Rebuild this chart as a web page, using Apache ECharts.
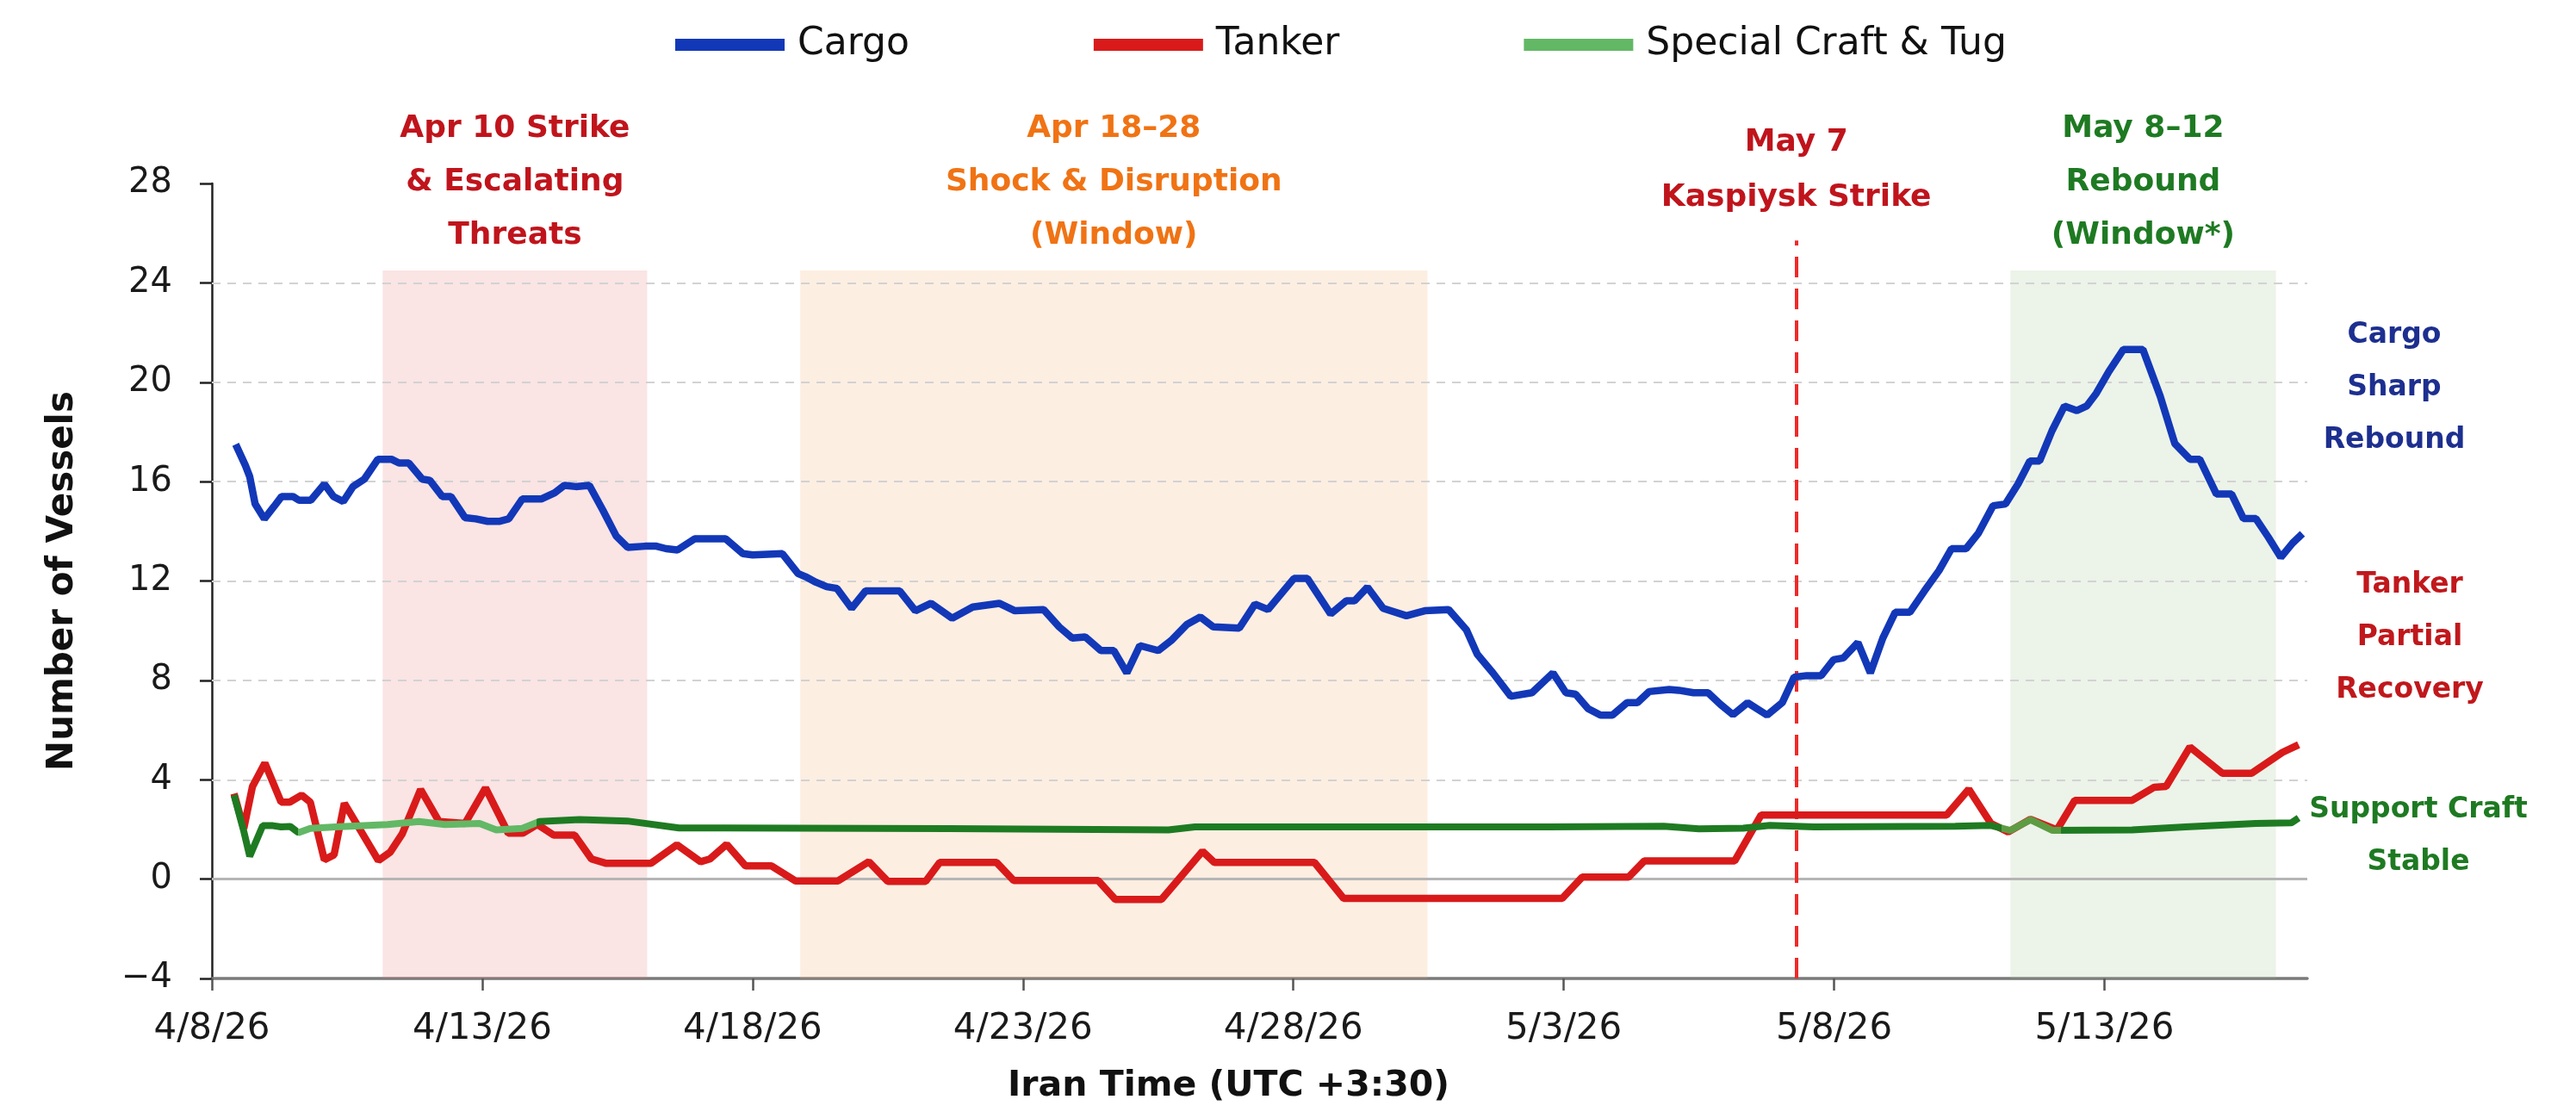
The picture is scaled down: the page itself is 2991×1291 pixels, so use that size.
<!DOCTYPE html>
<html>
<head>
<meta charset="utf-8">
<title>Vessels by type</title>
<script src="https://cdn.jsdelivr.net/npm/echarts@6/dist/echarts.min.js"></script>
<style>
html, body { margin: 0; padding: 0; background: #fff; }
#chart { width: 2991px; height: 1291px; }
</style>
</head>
<body>
<div id="chart"></div>
<script>
// x values are days since 4/8/26 00:00 (Iran time)
var dateTicks = [0, 5, 10, 15, 20, 25, 30, 35]
var gridValues = [4, 8, 12, 16, 20, 24]

var cargo = [
  [0.44, 17.5], [0.62, 16.65], [0.70, 16.2], [0.80, 15.1], [0.97, 14.5], [1.15, 15.0], [1.29, 15.4], [1.5, 15.4],
  [1.61, 15.25], [1.83, 15.25], [2.08, 15.9], [2.25, 15.4], [2.43, 15.2], [2.61, 15.8], [2.82, 16.1], [3.07, 16.9],
  [3.32, 16.9], [3.46, 16.75], [3.64, 16.75], [3.89, 16.1], [4.03, 16.05], [4.26, 15.4], [4.42, 15.4], [4.68, 14.55],
  [4.88, 14.5], [5.10, 14.4], [5.31, 14.4], [5.49, 14.5], [5.74, 15.3], [6.09, 15.3], [6.34, 15.55], [6.52, 15.85],
  [6.73, 15.8], [6.98, 15.85], [7.23, 14.85], [7.48, 13.8], [7.69, 13.35], [8.01, 13.4], [8.22, 13.4], [8.40, 13.3],
  [8.61, 13.25], [8.93, 13.7], [9.50, 13.7], [9.82, 13.1], [10.0, 13.05], [10.55, 13.1], [10.84, 12.3], [10.98, 12.17],
  [11.17, 11.95], [11.37, 11.77], [11.56, 11.7], [11.83, 10.9], [12.09, 11.6], [12.72, 11.6], [13.01, 10.8], [13.3, 11.1],
  [13.69, 10.5], [14.07, 10.95], [14.56, 11.1], [14.85, 10.8], [15.38, 10.85], [15.67, 10.15], [15.91, 9.7], [16.15, 9.75],
  [16.44, 9.2], [16.68, 9.2], [16.92, 8.3], [17.16, 9.4], [17.50, 9.2], [17.74, 9.6], [18.03, 10.25], [18.28, 10.55],
  [18.52, 10.15], [19.0, 10.1], [19.29, 11.07], [19.53, 10.85], [20.01, 12.1], [20.26, 12.1], [20.69, 10.67], [20.98, 11.2],
  [21.13, 11.2], [21.37, 11.75], [21.66, 10.9], [22.09, 10.6], [22.43, 10.8], [22.87, 10.85], [23.2, 10.03], [23.4, 9.05],
  [23.69, 8.3], [24.02, 7.36], [24.41, 7.5], [24.8, 8.3], [25.04, 7.5], [25.22, 7.44], [25.45, 6.86], [25.68, 6.6],
  [25.9, 6.6], [26.17, 7.1], [26.36, 7.1], [26.58, 7.55], [26.95, 7.63], [27.13, 7.6], [27.4, 7.5], [27.67, 7.5],
  [27.9, 7.03], [28.13, 6.62], [28.4, 7.1], [28.76, 6.6], [29.04, 7.1], [29.26, 8.13], [29.49, 8.19], [29.76, 8.19],
  [29.99, 8.83], [30.17, 8.9], [30.44, 9.52], [30.67, 8.3], [30.9, 9.7], [31.13, 10.74], [31.40, 10.74], [31.67, 11.6],
  [31.94, 12.42], [32.17, 13.3], [32.44, 13.3], [32.67, 13.93], [32.94, 15.03], [33.17, 15.1], [33.4, 15.9], [33.62, 16.83],
  [33.8, 16.83], [34.03, 18.05], [34.26, 19.04], [34.49, 18.86], [34.67, 19.04], [34.85, 19.56], [35.08, 20.43], [35.35, 21.32],
  [35.71, 21.32], [36.03, 19.44], [36.3, 17.53], [36.58, 16.9], [36.76, 16.9], [37.07, 15.5], [37.35, 15.5], [37.57, 14.51],
  [37.8, 14.51], [38.03, 13.76], [38.26, 12.95], [38.48, 13.53], [38.66, 13.9]
]

var tanker = [
  [0.41, 3.44], [0.59, 2.04], [0.75, 3.72], [0.98, 4.67], [1.28, 3.1], [1.44, 3.1], [1.66, 3.38], [1.82, 3.1],
  [2.08, 0.78], [2.26, 0.98], [2.45, 3.05], [3.08, 0.75], [3.30, 1.09], [3.52, 1.82], [3.86, 3.61], [4.2, 2.32],
  [4.68, 2.24], [5.06, 3.67], [5.48, 1.85], [5.75, 1.85], [6.02, 2.2], [6.32, 1.77], [6.71, 1.77], [7.02, 0.81],
  [7.28, 0.64], [8.12, 0.64], [8.6, 1.38], [9.04, 0.7], [9.21, 0.81], [9.52, 1.4], [9.87, 0.53], [10.35, 0.53],
  [10.79, -0.07], [11.58, -0.07], [12.15, 0.7], [12.5, -0.09], [13.2, -0.09], [13.46, 0.67], [14.51, 0.67], [14.83, -0.06],
  [16.39, -0.06], [16.71, -0.82], [17.56, -0.82], [18.32, 1.12], [18.54, 0.67], [20.39, 0.67], [20.93, -0.78], [24.97, -0.78],
  [25.34, 0.08], [26.2, 0.08], [26.49, 0.73], [28.16, 0.73], [28.65, 2.58], [32.08, 2.58], [32.49, 3.62], [32.9, 2.24],
  [33.22, 1.9], [33.63, 2.41], [34.12, 1.98], [34.45, 3.17], [35.51, 3.17], [35.92, 3.7], [36.14, 3.73], [36.58, 5.32],
  [37.18, 4.26], [37.72, 4.26], [38.29, 5.1], [38.59, 5.41]
]

var specialCraft = [
  [0.41, 3.38], [0.59, 1.93], [0.70, 0.92], [0.94, 2.15], [1.13, 2.15], [1.28, 2.1], [1.45, 2.12], [1.60, 1.87],
  [1.82, 2.04], [2.29, 2.1], [3.25, 2.2], [3.83, 2.32], [4.31, 2.2], [4.95, 2.24], [5.26, 1.98], [5.74, 2.04],
  [6.06, 2.32], [6.8, 2.4], [7.68, 2.34], [8.64, 2.06], [9.52, 2.06], [13.62, 2.03], [17.69, 1.98], [18.18, 2.1],
  [24.72, 2.1], [26.85, 2.13], [27.5, 2.02], [28.32, 2.05], [28.81, 2.16], [29.63, 2.1], [32.24, 2.13], [32.9, 2.16],
  [33.26, 1.96], [33.63, 2.39], [34.04, 1.96], [35.51, 1.98], [36.5, 2.1], [37.8, 2.24], [38.46, 2.27], [38.59, 2.46]
]

// shaded windows [start day, end day] and the May 7 strike
var strikeWindow = [3.16, 8.05]
var shockWindow = [10.88, 22.48]
var reboundWindow = [33.26, 38.17]
var kaspiyskDay = 29.3

var FONT = '"DejaVu Sans", "Liberation Sans", sans-serif'

function dayLabel(v) {
  var d = new Date(Date.UTC(2026, 3, 8 + v))
  return (d.getUTCMonth() + 1) + '/' + d.getUTCDate() + '/26'
}

function areaLabel(text, color) {
  return {
    show: true,
    position: 'top',
    distance: 9,
    formatter: text,
    color: color,
    fontFamily: FONT,
    fontSize: 36,
    fontWeight: 'bold',
    lineHeight: 62,
    align: 'center'
  }
}

function sideNote(x, y, text, color) {
  return {
    type: 'text',
    x: x,
    y: y,
    silent: true,
    style: {
      text: text,
      fill: color,
      fontFamily: FONT,
      fontSize: 33,
      fontWeight: 'bold',
      lineHeight: 61,
      align: 'center',
      verticalAlign: 'middle',
      textAlign: 'center',
      textVerticalAlign: 'middle'
    }
  }
}

const chartDom = document.getElementById('chart')
const myChart = echarts.init(chartDom)
var option
option = {
  animation: false,
  backgroundColor: '#ffffff',
  textStyle: { fontFamily: FONT },
  grid: { left: 246, right: 312, top: 213, bottom: 155 },
  legend: {
    left: 779,
    top: 25,
    icon: 'rect',
    itemWidth: 127,
    itemHeight: 14,
    itemGap: 214,
    textStyle: { fontFamily: FONT, fontSize: 44, color: '#111', lineHeight: 44, padding: [0, 0, 0, 10] },
    data: [
      { name: 'Cargo' },
      { name: 'Tanker' },
      { name: 'Special Craft & Tug', itemStyle: { color: '#62b865' } }
    ]
  },
  xAxis: {
    type: 'value',
    min: 0,
    max: 38.75,
    name: 'Iran Time (UTC +3:30)',
    nameLocation: 'middle',
    nameGap: 105,
    nameTextStyle: { fontFamily: FONT, fontSize: 41, fontWeight: 'bold', color: '#111', padding: [0, 72, 0, 0] },
    axisLine: { show: true, onZero: false, lineStyle: { color: '#7a7a7a', width: 3.5 } },
    axisTick: { show: true, length: 14, customValues: dateTicks, lineStyle: { color: '#555', width: 2.5 } },
    axisLabel: {
      customValues: dateTicks,
      formatter: dayLabel,
      fontFamily: FONT,
      fontSize: 42,
      color: '#1a1a1a',
      margin: 38
    },
    splitLine: { show: false }
  },
  yAxis: {
    type: 'value',
    min: -4,
    max: 28,
    interval: 4,
    name: 'Number of Vessels',
    nameLocation: 'middle',
    nameGap: 152,
    nameTextStyle: { fontFamily: FONT, fontSize: 42, fontWeight: 'bold', color: '#111' },
    axisLine: { show: true, onZero: false, lineStyle: { color: '#222', width: 2.5 } },
    axisTick: { show: true, length: 14, lineStyle: { color: '#222', width: 2.5 } },
    axisLabel: {
      formatter: function(v) { return v < 0 ? '\u2212' + Math.abs(v) : String(v) },
      fontFamily: FONT,
      fontSize: 40,
      color: '#1a1a1a',
      margin: 46
    },
    splitLine: { show: false }
  },
  visualMap: {
    type: 'piecewise',
    show: false,
    seriesIndex: 3,
    dimension: 0,
    pieces: [
      { gte: 1.6, lt: 6.0, color: '#62b865' },
      { gte: 33.1, lt: 34.2, color: '#5d9c43' }
    ],
    outOfRange: { color: '#1e7b22' }
  },
  graphic: [
    sideNote(2780, 450, 'Cargo\nSharp\nRebound', '#1d2f8f'),
    sideNote(2798, 740, 'Tanker\nPartial\nRecovery', '#c0181c'),
    sideNote(2808, 971, 'Support Craft\nStable', '#1e7a22')
  ],
  series: [
    {
      // background: event windows, gridlines, zero line, strike marker
      name: 'background',
      type: 'line',
      data: [],
      z: 1,
      silent: true,
      markArea: {
        silent: true,
        data: [
          [
            { xAxis: strikeWindow[0], yAxis: -4, itemStyle: { color: 'rgba(230,120,120,0.2)' }, label: areaLabel('Apr 10 Strike\n& Escalating\nThreats', '#c0141c') },
            { xAxis: strikeWindow[1], yAxis: 24.5 }
          ],
          [
            { xAxis: shockWindow[0], yAxis: -4, itemStyle: { color: 'rgba(245,170,110,0.2)' }, label: areaLabel('Apr 18\u201328\nShock & Disruption\n(Window)', '#f07314') },
            { xAxis: shockWindow[1], yAxis: 24.5 }
          ],
          [
            { xAxis: reboundWindow[0], yAxis: -4, itemStyle: { color: 'rgba(160,195,145,0.2)' }, label: areaLabel('May 8\u201312\nRebound\n(Window*)', '#1e7a22') },
            { xAxis: reboundWindow[1], yAxis: 24.5 }
          ]
        ]
      },
      markLine: {
        silent: true,
        symbol: 'none',
        data: gridValues.map(function(v) {
          return {
            yAxis: v,
            label: { show: false },
            lineStyle: { color: '#d2d2d2', width: 2, type: [10, 8] }
          }
        }).concat([
          { yAxis: 0, label: { show: false }, lineStyle: { color: '#b5b5b5', width: 3, type: 'solid' } },
          [
            {
              coord: [kaspiyskDay, -4],
              lineStyle: { color: '#ee2a2a', width: 4, type: [24, 13] },
              label: {
                show: true,
                position: 'end',
                distance: 18,
                formatter: 'May 7\nKaspiysk Strike',
                color: '#c0141c',
                fontFamily: FONT,
                fontSize: 36,
                fontWeight: 'bold',
                lineHeight: 64,
                align: 'center'
              }
            },
            { coord: [kaspiyskDay, 25.7] }
          ]
        ])
      }
    },
    {
      name: 'Cargo',
      type: 'line',
      data: cargo,
      z: 5,
      symbol: 'none',
      lineStyle: { color: '#1238b8', width: 8.5 },
      itemStyle: { color: '#1238b8' }
    },
    {
      name: 'Tanker',
      type: 'line',
      data: tanker,
      z: 5,
      symbol: 'none',
      lineStyle: { color: '#d91a1a', width: 8.5 },
      itemStyle: { color: '#d91a1a' }
    },
    {
      name: 'Special Craft & Tug',
      type: 'line',
      data: specialCraft,
      z: 5,
      symbol: 'none',
      lineStyle: { width: 8 },
      itemStyle: { color: '#62b865' }
    }
  ]
}
option && myChart.setOption(option)
</script>
</body>
</html>
